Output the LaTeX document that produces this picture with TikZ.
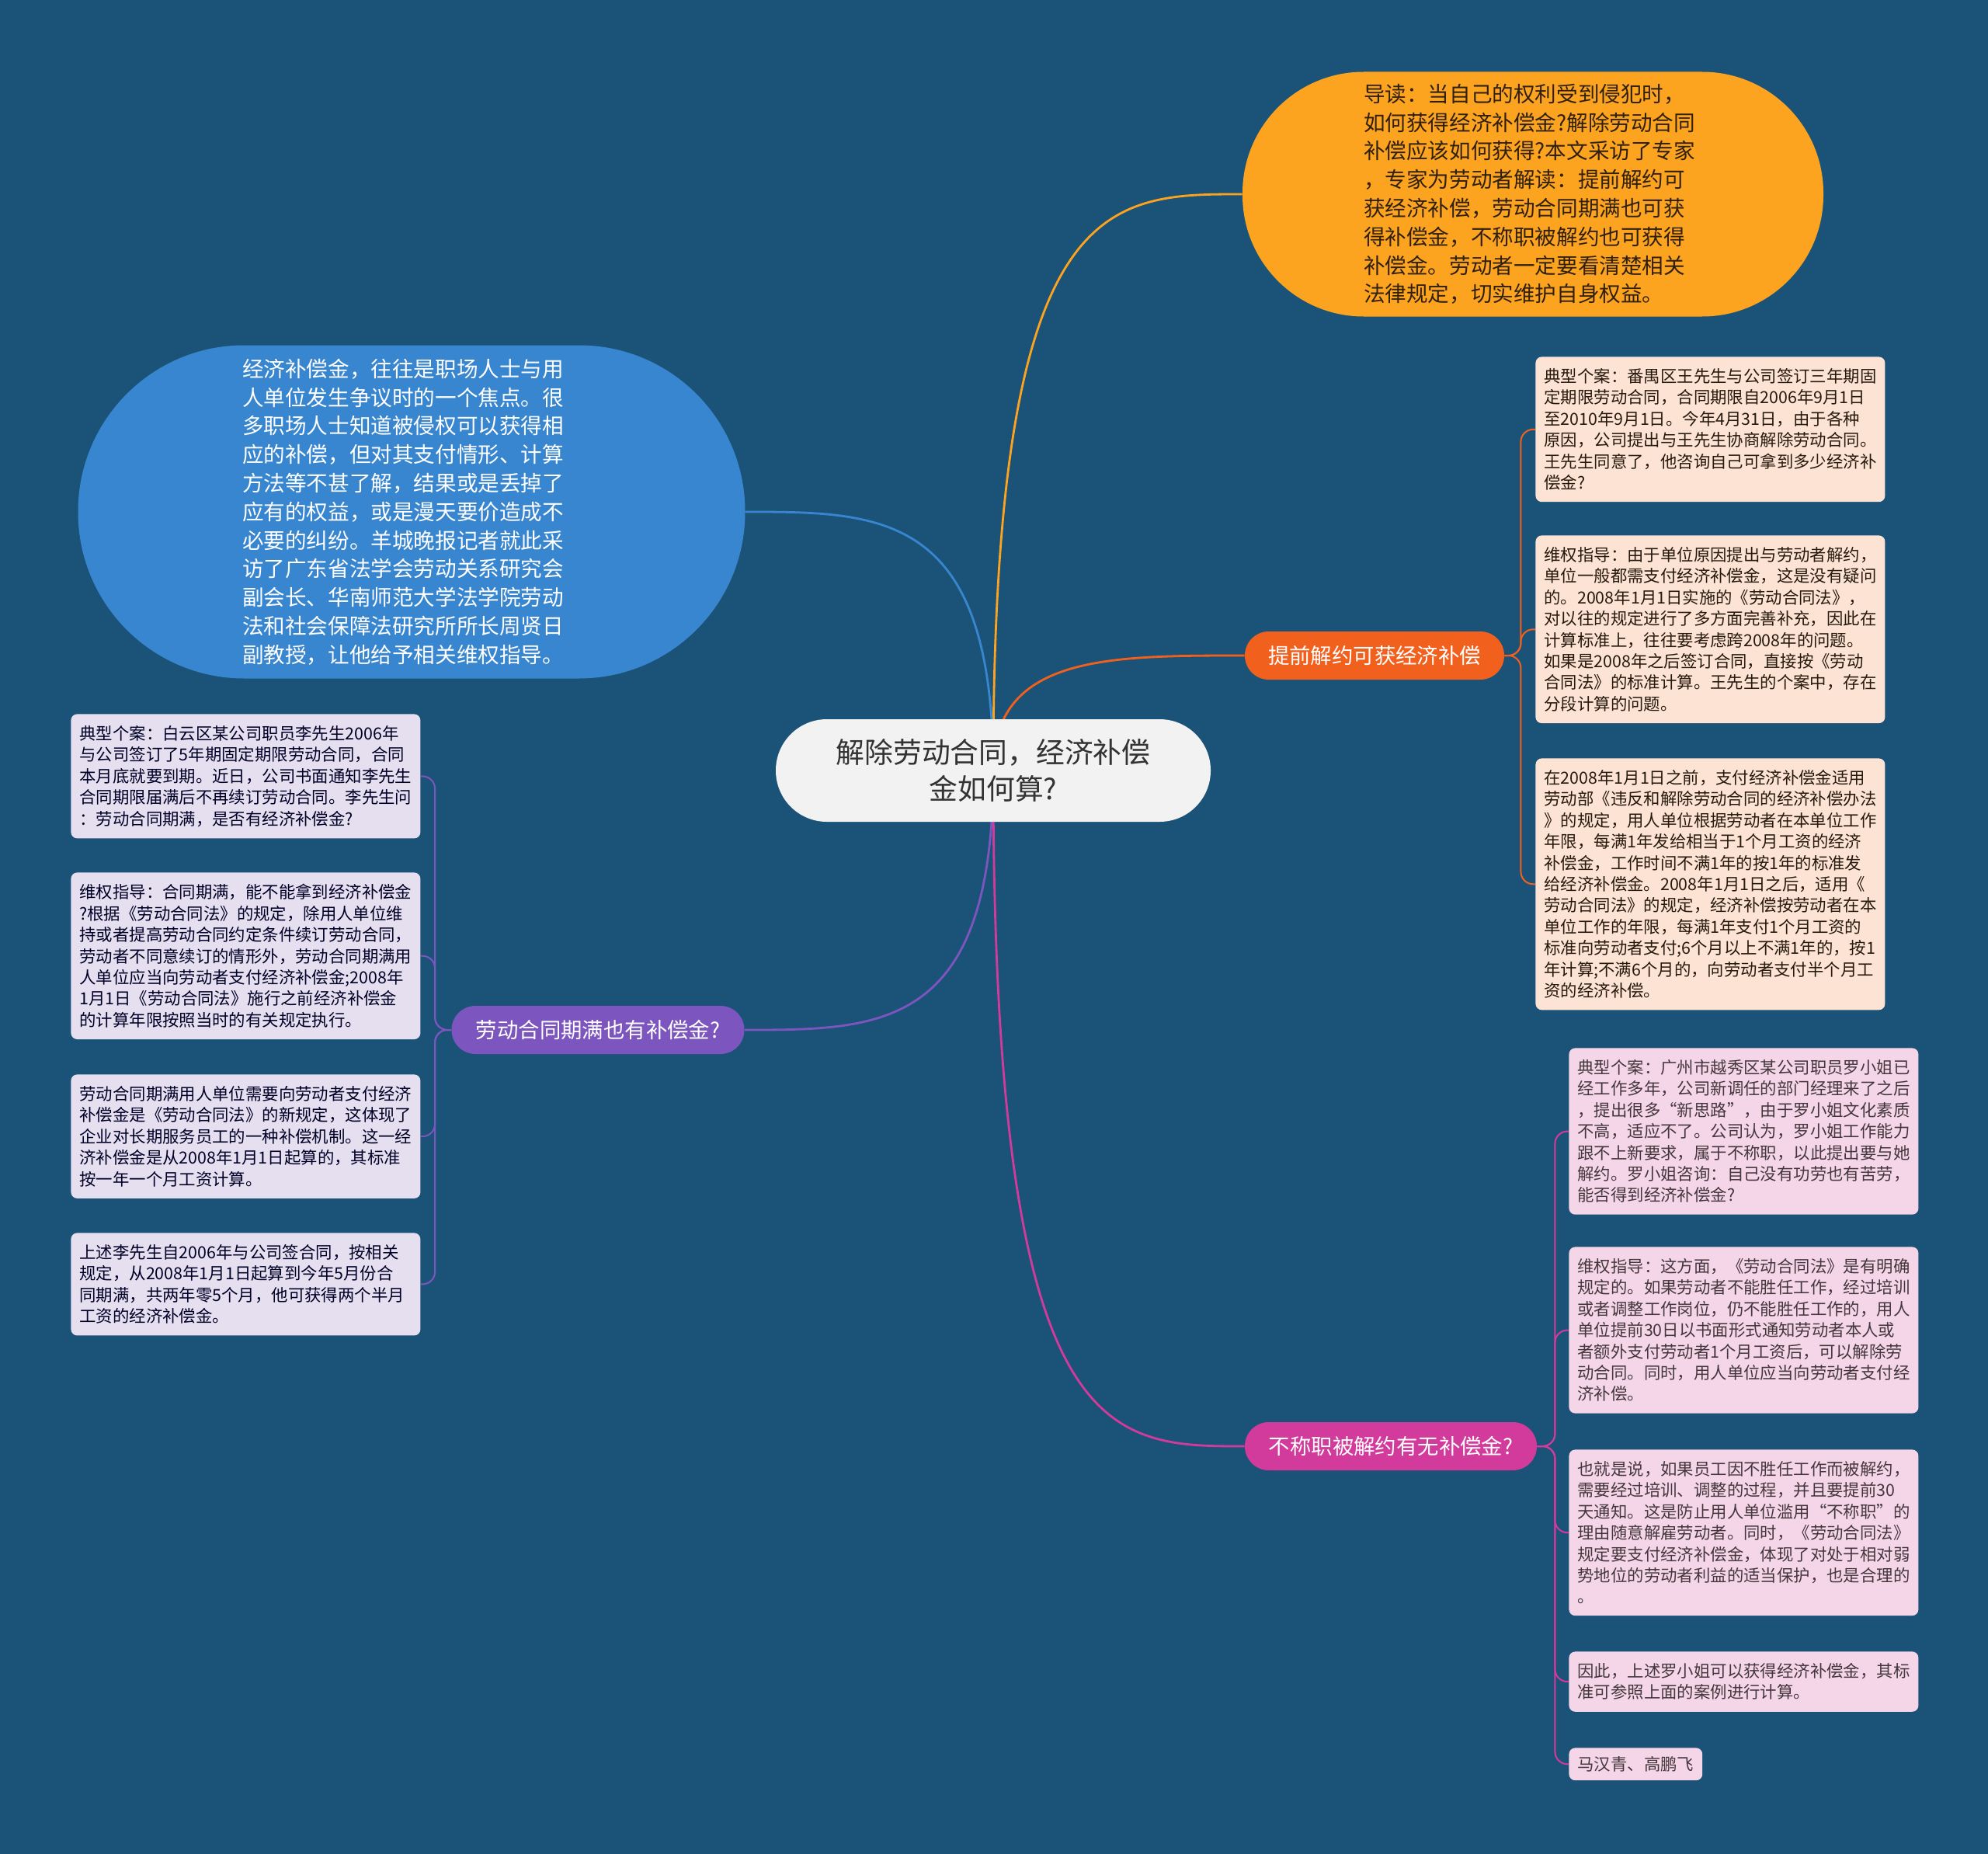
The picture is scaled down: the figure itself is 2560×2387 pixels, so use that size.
\documentclass[tikz,border=0pt]{standalone}
\usepackage{fontspec}
\setmainfont{Noto Sans CJK SC}
\definecolor{bgblue}{HTML}{1B5378}
\definecolor{rootgray}{HTML}{F2F2F2}
\definecolor{myorange}{HTML}{FCA31F}
\definecolor{myblue}{HTML}{3886D0}
\definecolor{myred}{HTML}{F2601E}
\definecolor{mypurple}{HTML}{7D55BE}
\definecolor{mypink}{HTML}{D23A9B}
\definecolor{redleaf}{HTML}{FDE3D4}
\definecolor{purpleleaf}{HTML}{E5DFF0}
\definecolor{pinkleaf}{HTML}{F5D6E9}
\usetikzlibrary{positioning, calc}
\pgfdeclarelayer{bg}
\pgfdeclarelayer{links}
\pgfsetlayers{bg,links,main}
\tikzset{
	leaf/.style={rounded corners=4pt, align=left, anchor=north west,
		inner xsep=5.5pt, inner ysep=7.5pt, font=\fontsize{10.7}{13.7}\selectfont}
}
\tikzset{
	leafw/.style={leaf, text width=214pt}
}
\tikzset{
	branch/.style={rounded corners=15.4pt, minimum height=31pt, text=white,
		font=\fontsize{13.7}{16}\selectfont},
	bubble/.style={align=left, text width=218pt, font=\fontsize{13.8}{18.4}\selectfont},
	link/.style={line width=1.4pt},
	leaflink/.style={line width=1pt, rounded corners=8pt}
}

\begin{document}
\begin{tikzpicture}[x=0.5pt, y=-0.5pt]
      \begin{pgfonlayer}{bg}
        \fill[bgblue] (0,0) rectangle (2560,2387);
      \end{pgfonlayer}
      \useasboundingbox (0,0) rectangle (2560,2387);
      % centre topic
      \node[fill=rootgray, text=black!80, rounded corners=32.9pt, minimum width=280pt,
        minimum height=66pt, align=center, font=\fontsize{18.4}{23.5}\selectfont]
        (root) at (1279,992) {解除劳动合同，经济补偿\\金如何算?};
      % two floating notes
      \node[bubble, fill=myorange, text={black!75!brown}, rounded corners=78pt,
        minimum width=374pt, minimum height=157.5pt] (intro) at (1974,250) {导读：当自己的权利受到侵犯时，\\
如何获得经济补偿金?解除劳动合同\\
补偿应该如何获得?本文采访了专家\\
，专家为劳动者解读：提前解约可\\
获经济补偿，劳动合同期满也可获\\
得补偿金，不称职被解约也可获得\\
补偿金。劳动者一定要看清楚相关\\
法律规定，切实维护自身权益。};
      \node[bubble, fill=myblue, text=white, rounded corners=107pt,
        minimum width=429.5pt, minimum height=214.5pt] (note) at (530,659) {经济补偿金，往往是职场人士与用\\
人单位发生争议时的一个焦点。很\\
多职场人士知道被侵权可以获得相\\
应的补偿，但对其支付情形、计算\\
方法等不甚了解，结果或是丢掉了\\
应有的权益，或是漫天要价造成不\\
必要的纠纷。羊城晚报记者就此采\\
访了广东省法学会劳动关系研究会\\
副会长、华南师范大学法学院劳动\\
法和社会保障法研究所所长周贤日\\
副教授，让他给予相关维权指导。};
      % branches
      \node[branch, fill=myred, minimum width=167pt] (early) at (1770,844) {提前解约可获经济补偿};
      \node[branch, fill=mypurple, minimum width=188.5pt] (expire) at (770,1326) {劳动合同期满也有补偿金?};
      \node[branch, fill=mypink, minimum width=188pt] (unfit) at (1791,1862) {不称职被解约有无补偿金?};
      % leaves of early
      \node[leafw, fill=redleaf, text=black!80!brown] (e1) at (1977,459) {典型个案：番禺区王先生与公司签订三年期固\\
定期限劳动合同，合同期限自2006年9月1日\\
至2010年9月1日。今年4月31日，由于各种\\
原因，公司提出与王先生协商解除劳动合同。\\
王先生同意了，他咨询自己可拿到多少经济补\\
偿金?};
      \node[leafw, fill=redleaf, text=black!80!brown] (e2) at (1977,689) {维权指导：由于单位原因提出与劳动者解约，\\
单位一般都需支付经济补偿金，这是没有疑问\\
的。2008年1月1日实施的《劳动合同法》，\\
对以往的规定进行了多方面完善补充，因此在\\
计算标准上，往往要考虑跨2008年的问题。\\
如果是2008年之后签订合同，直接按《劳动\\
合同法》的标准计算。王先生的个案中，存在\\
分段计算的问题。};
      \node[leafw, fill=redleaf, text=black!80!brown] (e3) at (1977,976) {在2008年1月1日之前，支付经济补偿金适用\\
劳动部《违反和解除劳动合同的经济补偿办法\\
》的规定，用人单位根据劳动者在本单位工作\\
年限，每满1年发给相当于1个月工资的经济\\
补偿金，工作时间不满1年的按1年的标准发\\
给经济补偿金。2008年1月1日之后，适用《\\
劳动合同法》的规定，经济补偿按劳动者在本\\
单位工作的年限，每满1年支付1个月工资的\\
标准向劳动者支付;6个月以上不满1年的，按1\\
年计算;不满6个月的，向劳动者支付半个月工\\
资的经济补偿。};
      % leaves of expire
      \node[leafw, fill=purpleleaf, text=black!85!blue] (x1) at (91,919) {典型个案：白云区某公司职员李先生2006年\\
与公司签订了5年期固定期限劳动合同，合同\\
本月底就要到期。近日，公司书面通知李先生\\
合同期限届满后不再续订劳动合同。李先生问\\
：劳动合同期满，是否有经济补偿金?};
      \node[leafw, fill=purpleleaf, text=black!85!blue] (x2) at (91,1123) {维权指导：合同期满，能不能拿到经济补偿金\\
?根据《劳动合同法》的规定，除用人单位维\\
持或者提高劳动合同约定条件续订劳动合同，\\
劳动者不同意续订的情形外，劳动合同期满用\\
人单位应当向劳动者支付经济补偿金;2008年\\
1月1日《劳动合同法》施行之前经济补偿金\\
的计算年限按照当时的有关规定执行。};
      \node[leafw, fill=purpleleaf, text=black!85!blue] (x3) at (91,1383) {劳动合同期满用人单位需要向劳动者支付经济\\
补偿金是《劳动合同法》的新规定，这体现了\\
企业对长期服务员工的一种补偿机制。这一经\\
济补偿金是从2008年1月1日起算的，其标准\\
按一年一个月工资计算。};
      \node[leafw, fill=purpleleaf, text=black!85!blue] (x4) at (91,1587) {上述李先生自2006年与公司签合同，按相关\\
规定，从2008年1月1日起算到今年5月份合\\
同期满，共两年零5个月，他可获得两个半月\\
工资的经济补偿金。};
      % leaves of unfit
      \node[leafw, fill=pinkleaf, text=black!85!magenta] (u1) at (2020,1349) {典型个案：广州市越秀区某公司职员罗小姐已\\
经工作多年，公司新调任的部门经理来了之后\\
，提出很多“新思路”，由于罗小姐文化素质\\
不高，适应不了。公司认为，罗小姐工作能力\\
跟不上新要求，属于不称职，以此提出要与她\\
解约。罗小姐咨询：自己没有功劳也有苦劳，\\
能否得到经济补偿金?};
      \node[leafw, fill=pinkleaf, text=black!85!magenta] (u2) at (2020,1605) {维权指导：这方面，《劳动合同法》是有明确\\
规定的。如果劳动者不能胜任工作，经过培训\\
或者调整工作岗位，仍不能胜任工作的，用人\\
单位提前30日以书面形式通知劳动者本人或\\
者额外支付劳动者1个月工资后，可以解除劳\\
动合同。同时，用人单位应当向劳动者支付经\\
济补偿。};
      \node[leafw, fill=pinkleaf, text=black!85!magenta] (u3) at (2020,1866) {也就是说，如果员工因不胜任工作而被解约，\\
需要经过培训、调整的过程，并且要提前30\\
天通知。这是防止用人单位滥用“不称职”的\\
理由随意解雇劳动者。同时，《劳动合同法》\\
规定要支付经济补偿金，体现了对处于相对弱\\
势地位的劳动者利益的适当保护，也是合理的\\
。};
      \node[leafw, fill=pinkleaf, text=black!85!magenta] (u4) at (2020,2126) {因此，上述罗小姐可以获得经济补偿金，其标\\
准可参照上面的案例进行计算。};
      \node[leaf, fill=pinkleaf, text=black!85!magenta, inner ysep=5.5pt] (u5) at (2020,2250) {马汉青、高鹏飞};
      % connectors behind the nodes
      \begin{pgfonlayer}{links}
        \foreach \n/\a/\c in {intro/west/myorange, note/east/myblue, early/west/myred,
          expire/east/mypurple, unfit/west/mypink}
          \draw[link, \c] (root.center) .. controls (root.center |- \n.\a)
            and ($(root.center |- \n.\a)!0.45!(\n.\a)$) .. (\n.\a);
        \foreach \l in {e1,e2,e3}
          \draw[leaflink, myred] (early.east) -- ++(21,0) |- (\l.west);
        \foreach \l in {x1,x2,x3,x4}
          \draw[leaflink, mypurple] (expire.west) -- ++(-21,0) |- (\l.east);
        \foreach \l in {u1,u2,u3,u4,u5}
          \draw[leaflink, mypink] (unfit.east) -- ++(23,0) |- (\l.west);
      \end{pgfonlayer}
    \end{tikzpicture}
\end{document}
